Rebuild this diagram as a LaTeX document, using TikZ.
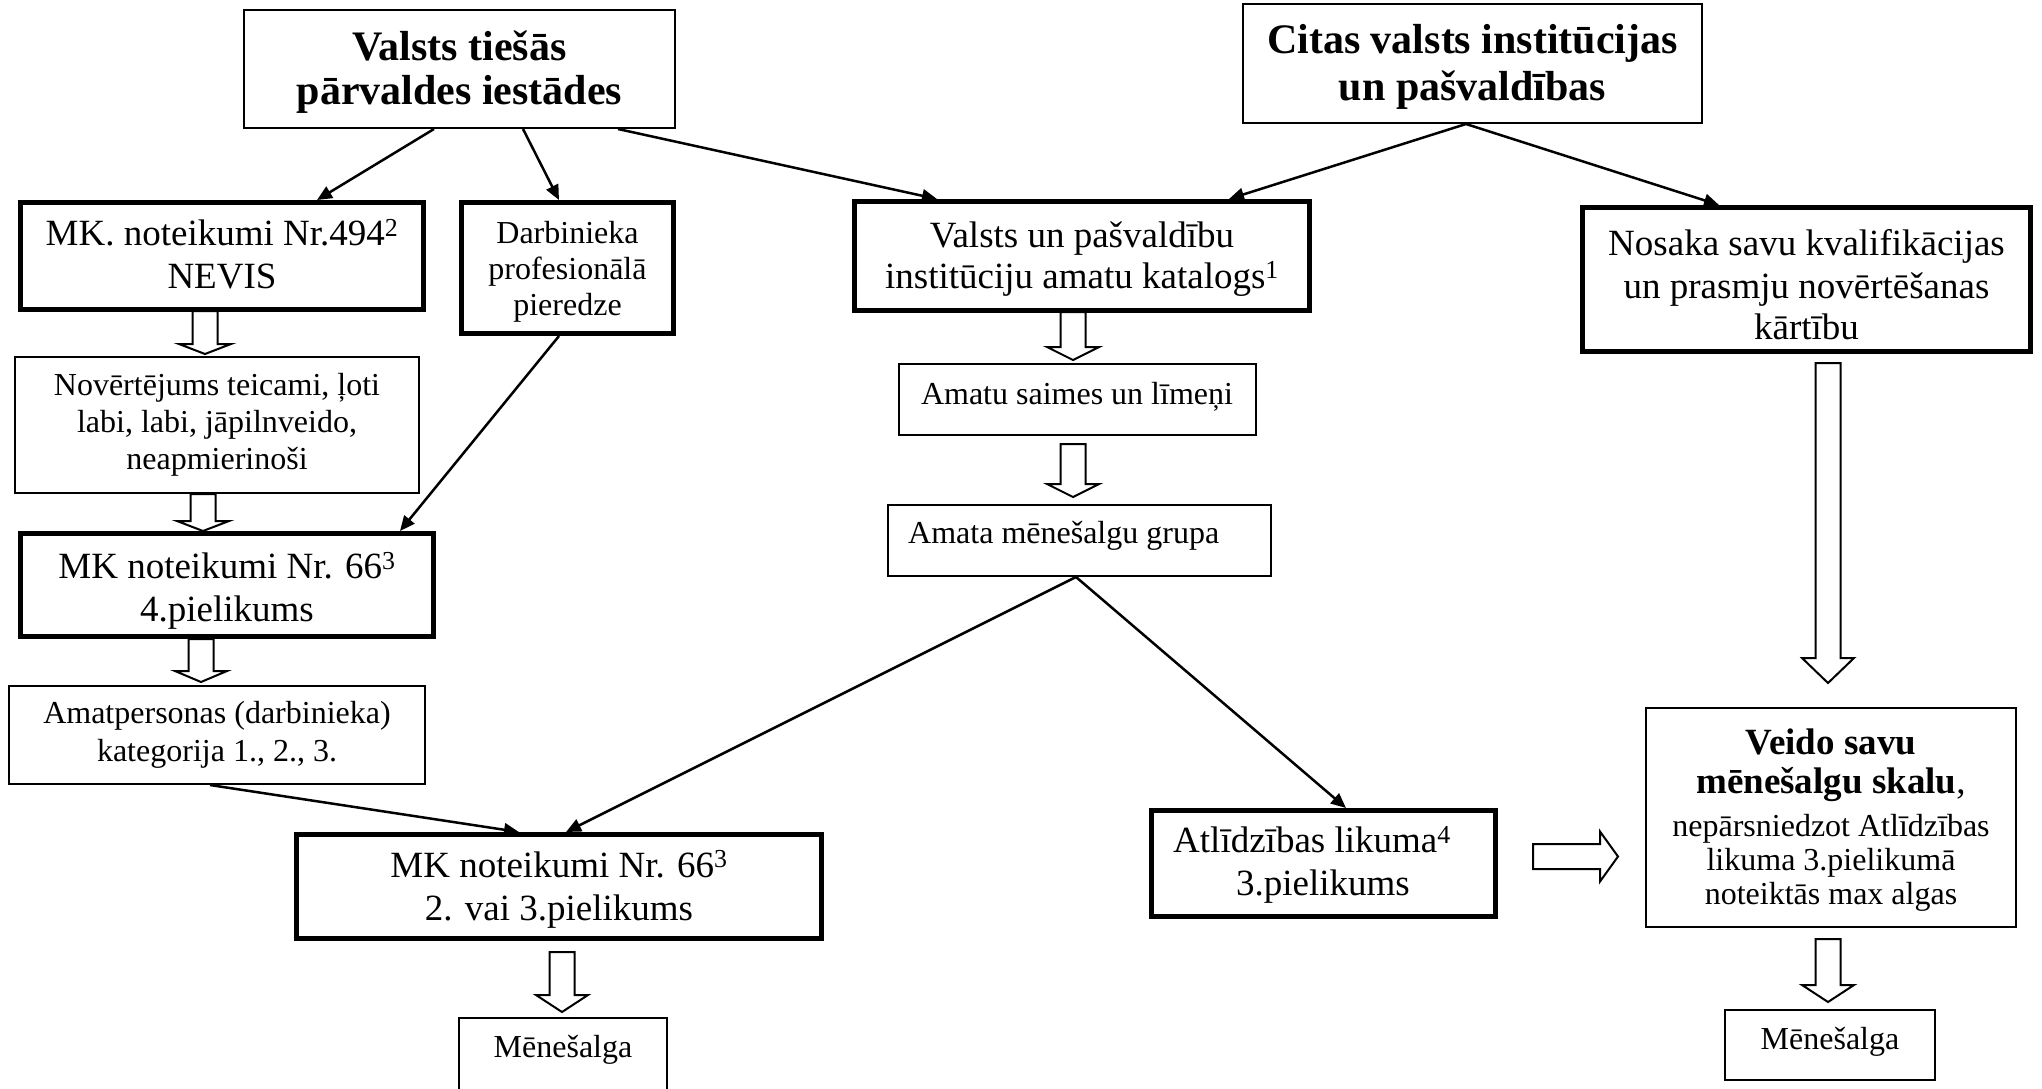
\documentclass[tikz,border=0pt]{standalone}
\usepackage{fontspec}
\setmainfont{Liberation Serif}
\usetikzlibrary{arrows.meta}
\tikzset{
  thinbox/.style={draw, line width=2pt, inner sep=0pt},
  thickbox/.style={draw, line width=5pt, inner sep=0pt},
  conn/.style={line width=2.5pt, -{Triangle[length=15pt,width=13pt]}},
  hollow/.style={draw, line width=2pt, fill=white, line join=miter},
  hb/.style={font=\fontsize{42}{48}\selectfont\bfseries, anchor=base, inner sep=0pt},
  tb/.style={font=\fontsize{37}{43}\selectfont\bfseries, anchor=base, inner sep=0pt},
  tl/.style={font=\fontsize{37}{43}\selectfont, anchor=base, inner sep=0pt},
  ts/.style={font=\fontsize{32}{37}\selectfont, anchor=base, inner sep=0pt},
  pics/hdown/.style n args={2}{code={
    \draw[hollow] (-12.5,0) -- (-12.5,#1) -- (-26,#1) -- (0,#2) -- (26,#1) -- (12.5,#1) -- (12.5,0) -- cycle;}},
  pics/hright/.style n args={2}{code={
    \draw[hollow] (0,-12.5) -- (#1,-12.5) -- (#1,-25) -- (#2,0) -- (#1,25) -- (#1,12.5) -- (0,12.5) -- cycle;}},
}
\begin{document}
\begin{tikzpicture}[x=1pt, y=-1pt]
\useasboundingbox[fill=white] (0,0) rectangle (2042,1088);

% boxes
\node[thinbox, minimum width=431, minimum height=118] (A) at (459.5,69) {};
\node[thinbox, minimum width=459, minimum height=119] (B) at (1472.5,63.5) {};
\node[thickbox, minimum width=403, minimum height=107] (mk494) at (222,256) {};
\node[thickbox, minimum width=212, minimum height=131] (darb) at (567.5,268) {};
\node[thickbox, minimum width=455, minimum height=109] (kat) at (1082,256) {};
\node[thickbox, minimum width=448, minimum height=144] (nos) at (1806.5,279.5) {};
\node[thinbox, minimum width=404, minimum height=136] (nov) at (217,425) {};
\node[thinbox, minimum width=357, minimum height=71] (saim) at (1077.5,399.5) {};
\node[thinbox, minimum width=383, minimum height=71] (grupa) at (1079.5,540.5) {};
\node[thickbox, minimum width=413, minimum height=103] (mka) at (227,585) {};
\node[thinbox, minimum width=416, minimum height=98] (amatp) at (217,735) {};
\node[thickbox, minimum width=525, minimum height=104] (mkb) at (559,886.5) {};
\node[thickbox, minimum width=344, minimum height=106] (atl) at (1323.5,863.5) {};
\node[thinbox, minimum width=370, minimum height=219] (veido) at (1831,817.5) {};
\node[thinbox, minimum width=208, minimum height=82] (men1) at (563,1059) {};
\node[thinbox, minimum width=210, minimum height=70] (men2) at (1830,1045) {};

% texts
\node[hb] (tA1) at (459.5,60) {Valsts tiešās};
\node[hb] (tA2) at (459.5,104) {pārvaldes iestādes};
\node[hb] (tB1) at (1472.5,53) {Citas valsts institūcijas};
\node[hb] (tB2) at (1472.5,100) {un pašvaldības};
\node[tl] (t4941) at (222,245.5) {MK. noteikumi Nr.494\textsuperscript{2}};
\node[tl] (t4942) at (222,288) {NEVIS};
\node[ts] (td1) at (567.5,243) {Darbinieka};
\node[ts] (td2) at (567.5,279) {profesionālā};
\node[ts] (td3) at (567.5,315) {pieredze};
\node[tl] (tk1) at (1082,247) {Valsts un pašvaldību};
\node[tl] (tk2) at (1082,288) {institūciju amatu katalogs\textsuperscript{1}};
\node[tl] (tn1) at (1806.5,255) {Nosaka savu kvalifikācijas};
\node[tl] (tn2) at (1806.5,298) {un prasmju novērtēšanas};
\node[tl] (tn3) at (1806.5,339) {kārtību};
\node[ts] (tv1) at (217,395) {Novērtējums teicami, ļoti};
\node[ts] (tv2) at (217,432) {labi, labi, jāpilnveido,};
\node[ts] (tv3) at (217,469) {neapmierinoši};
\node[ts] (ts1) at (1077,404) {Amatu saimes un līmeņi};
\node[ts, anchor=base west] (tg1) at (908,543) {Amata mēnešalgu grupa};
\node[tl] (ta1) at (227,578.5) {MK noteikumi Nr. 66\textsuperscript{3}};
\node[tl] (ta2) at (227,621.5) {4.pielikums};
\node[ts] (tp1) at (217,723) {Amatpersonas (darbinieka)};
\node[ts] (tp2) at (217,761) {kategorija 1., 2., 3.};
\node[tl] (tb1) at (559,877) {MK noteikumi Nr. 66\textsuperscript{3}};
\node[tl] (tb2) at (559,920) {2. vai 3.pielikums};
\node[ts] (tm1) at (563,1057) {Mēnešalga};
\node[tl] (tl1) at (1312,852.5) {Atlīdzības likuma\textsuperscript{4}};
\node[tl] (tl2) at (1323,895) {3.pielikums};
\node[tb] (te1) at (1831,754) {Veido savu};
\node[tb] (te2) at (1831,793) {mēnešalgu skalu{\mdseries,}};
\node[ts] (te3) at (1831,836) {nepārsniedzot Atlīdzības};
\node[ts] (te4) at (1831,870) {likuma 3.pielikumā};
\node[ts] (te5) at (1831,904) {noteiktās max algas};
\node[ts] (tm2) at (1830,1049) {Mēnešalga};

% connectors
\draw[conn] ([xshift=-25.5pt]A.south) -- ([xshift=95pt]mk494.north);
\draw[conn] ([xshift=63.5pt]A.south) -- ([xshift=-8.5pt]darb.north);
\draw[conn] ([xshift=158.5pt]A.south) -- ([xshift=-145pt]kat.north);
\draw[conn] ([xshift=-6.5pt]B.south) -- ([xshift=147pt]kat.north);
\draw[conn] ([xshift=-6.5pt]B.south) -- ([xshift=-87.5pt]nos.north);
\draw[conn] ([xshift=-8.5pt]darb.south) -- ([xshift=173pt]mka.north);
\draw[conn] ([xshift=-7pt]amatp.south) -- ([xshift=-40pt]mkb.north);
\draw[conn] ([xshift=-3.5pt]grupa.south) -- ([xshift=7pt]mkb.north);
\draw[conn] ([xshift=-3.5pt]grupa.south) -- ([xshift=22.5pt]atl.north);

% hollow block arrows
\pic (h1) at (205,311) {hdown={33}{43}};
\pic (h2) at (203,494) {hdown={27}{37}};
\pic (h3) at (201,639) {hdown={32}{43}};
\pic (h4) at (562,952) {hdown={43}{60}};
\pic (h5) at (1073,312) {hdown={35}{48}};
\pic (h6) at (1073,444) {hdown={40}{53}};
\pic (h7) at (1828,363) {hdown={295}{320}};
\pic (h8) at (1828,939) {hdown={46}{63}};
\pic (h9) at (1533,856.5) {hright={67}{85}};
\end{tikzpicture}
\end{document}
